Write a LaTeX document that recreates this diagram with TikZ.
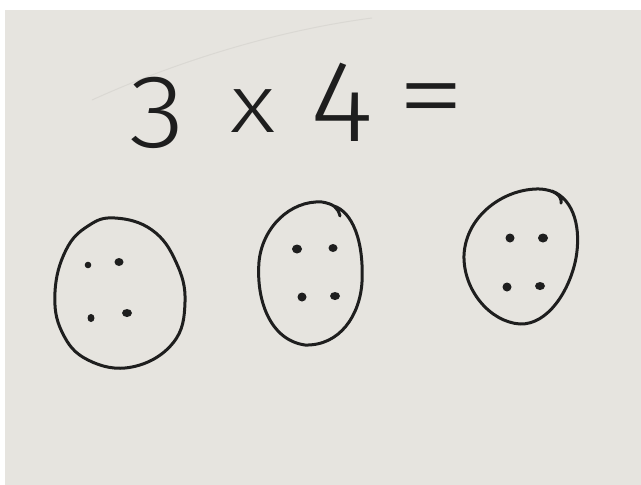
\documentclass[tikz,border=0pt]{standalone}
\usepackage{fontspec}
\IfFontExistsTF{Fira Sans Light}{\newfontfamily\hand{Fira Sans Light}}{\newfontfamily\hand{Fira Sans}}
\definecolor{paper}{HTML}{E6E4DF}
\definecolor{ink}{HTML}{1E1E1E}
\definecolor{pencil}{HTML}{DAD8D3}
\tikzset{
  glyph/.style={inner sep=0pt, outer sep=0pt, text=ink, font=\hand},
  loop/.style={draw=ink, line width=3pt, line cap=round, line join=round},
  dot/.style={fill=ink, draw=none},
}
\begin{document}
\begin{tikzpicture}[x=1pt,y=-1pt]
\useasboundingbox (0,0) rectangle (641,485);
\fill[white] (0,0) rectangle (641,485);
\fill[paper] (5,10) rectangle (641,485);
% faint pencil mark
\draw[pencil, line width=1pt] (92,100) .. controls (180,60) and (280,30) .. (372,18);
% equation
\node[glyph, font=\hand\fontsize{104}{104}\selectfont, xscale=1.1] (n3) at (157,113) {3};
\node[glyph, font=\hand\fontsize{82}{82}\selectfont, xscale=1.2] (nx) at (253,111) {x};
\node[glyph, font=\hand\fontsize{116}{116}\selectfont, xscale=1.05] (n4) at (342,102) {4};
\node[glyph, font=\hand\fontsize{110}{110}\selectfont, xscale=1.25] (neq) at (431,108) {=};
% group 1
\draw[loop] plot[smooth cycle, tension=0.7] coordinates {(115,218) (152,230) (176,262) (185,302) (173,343) (132,367) (88,360) (62,332) (55,292) (66,250) (88,226)};
\fill[dot] (88,265) ellipse (3.3pt and 3.3pt);
\fill[dot] (119,262) ellipse (4.5pt and 4pt);
\fill[dot] (91,318) ellipse (3.5pt and 4pt);
\fill[dot] (127,313) ellipse (5pt and 4pt);
% group 2
\draw[loop] (340,216) .. controls (338,208) and (334,204) .. (322,202) .. controls (290,200) and (262,228) .. (259,262)
  .. controls (256,300) and (270,340) .. (305,345) .. controls (340,346) and (360,315) .. (362,282)
  .. controls (364,240) and (352,212) .. (334,206);
\fill[dot] (297,249) ellipse (5pt and 4.5pt);
\fill[dot] (333,248) ellipse (4.5pt and 4pt);
\fill[dot] (302,297) ellipse (4.5pt and 4.5pt);
\fill[dot] (335,296) ellipse (5pt and 4pt);
% group 3
\draw[loop] (561,203) .. controls (562,196) and (555,190) .. (540,189) .. controls (505,188) and (466,215) .. (464,255)
  .. controls (463,290) and (490,322) .. (520,324) .. controls (548,325) and (570,290) .. (576,258)
  .. controls (581,230) and (575,200) .. (552,191);
\fill[dot] (510,238) ellipse (4.5pt and 4.5pt);
\fill[dot] (543,238) ellipse (5pt and 4.5pt);
\fill[dot] (507,287) ellipse (4.5pt and 4.5pt);
\fill[dot] (540,286) ellipse (5pt and 4pt);
\end{tikzpicture}
\end{document}
